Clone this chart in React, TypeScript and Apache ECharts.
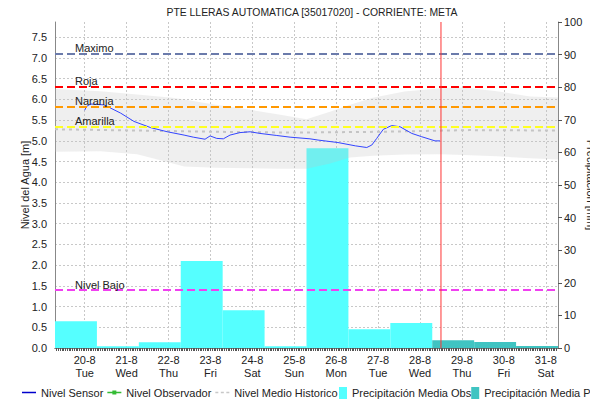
import React, { useEffect, useRef } from "react";
import * as echarts from "echarts";

const FONT = "'Liberation Sans', Arial, sans-serif";

// X axis: hours since 20-8 00:00
const X_MIN = -17; // 19-8 07:00
const X_MAX = 271; // 31-8 07:00
const Y_MAX = 7.87;
const dayLabels = ["20-8", "21-8", "22-8", "23-8", "24-8", "25-8", "26-8", "27-8", "28-8", "29-8", "30-8", "31-8"];
const weekdays = ["Tue", "Wed", "Thu", "Fri", "Sat", "Sun", "Mon", "Tue", "Wed", "Thu", "Fri", "Sat"];

// Daily precipitation (07:00 to 07:00), mm
const obsDates = ["19-8", "20-8", "21-8", "22-8", "23-8", "24-8", "25-8", "26-8", "27-8"];
const obsStartHour = [-17, 7, 31, 55, 79, 103, 127, 151, 175];
const obsMm = [8.2, 0.5, 1.8, 26.7, 11.6, 0.5, 61.3, 5.75, 7.7];
const proDates = ["28-8", "29-8", "30-8"];
const proStartHour = [199, 223, 247];
const proMm = [2.4, 1.85, 0.6];

// Sensor level (m)
const sensorHours = [0, 1, 3.4, 11, 14, 20.6, 28.2, 37.8, 47.3, 56.9, 62.2, 68.9, 71.8, 75.6, 79.4, 83.2, 88.9, 94.7, 100.4, 110, 117.6, 129, 133.6, 145, 155, 161.5, 164.4, 167.2, 171, 175.8, 180.6, 187.3, 193, 200.6, 203.5];
const sensorLevel = [5.74, 5.83, 5.89, 5.87, 5.81, 5.67, 5.47, 5.32, 5.22, 5.14, 5.09, 5.04, 5.12, 5.06, 5.05, 5.14, 5.2, 5.22, 5.18, 5.13, 5.09, 5.05, 5.02, 4.96, 4.88, 4.84, 4.9, 5.06, 5.28, 5.37, 5.34, 5.18, 5.1, 5.0, 5.0];

// Historical mean level and range (m)
const meanHours = [-17, 30, 75, 120, 170, 220, 271];
const meanLevel = [5.28, 5.25, 5.22, 5.2, 5.22, 5.26, 5.25];
const bandHours = [-17, 9, 30, 50, 57, 75, 95, 112, 127, 140, 152, 165, 183, 204, 217, 236, 255, 271];
const bandHigh = [6.25, 6.2, 6.12, 6.04, 6.0, 5.87, 5.75, 5.63, 5.52, 5.7, 5.87, 6.04, 6.19, 6.27, 6.29, 6.2, 6.07, 6.05];
const bandLow = [4.74, 4.75, 4.68, 4.46, 4.38, 4.35, 4.34, 4.33, 4.33, 4.45, 4.6, 4.64, 4.67, 4.68, 4.66, 4.63, 4.58, 4.55];

// Alert thresholds (m)
const thresholdNames = ["Maximo", "Roja", "Naranja", "Amarilla", "Nivel Bajo"];
const thresholdValues = [7.1, 6.31, 5.82, 5.34, 1.4];
const thresholdColors = ["#6b7bab", "#ff0000", "#ff9900", "#ffff22", "#f040f0"];

const nowHour = 204; // 28-8 12:00

const dayTickHours = dayLabels.map((_, i) => i * 24);
const minorTickHours: number[] = [];
for (let h = X_MIN + 1; h < X_MAX; h += 1) minorTickHours.push(h);

const OBS_COLOR = "#55ffff";
const PRO_COLOR = "#40c4c2";

function barSeries(name: string, starts: number[], vals: number[], color: string) {
  return {
    name,
    type: "custom",
    xAxisIndex: 0,
    yAxisIndex: 1,
    itemStyle: { color },
    encode: { x: [0, 1], y: 2 },
    data: starts.map((s, i) => [s, s + 24, vals[i]]),
    renderItem: (_params: any, api: any) => {
      const p0 = api.coord([api.value(0), api.value(2)]);
      const p1 = api.coord([api.value(1), 0]);
      return {
        type: "rect",
        shape: { x: p0[0], y: p0[1], width: p1[0] - p0[0], height: p1[1] - p0[1] },
        style: { fill: color },
      };
    },
  };
}

const lineIcon = "path://M0,0h14v1.5h-14z";
const obsIcon = "path://M0,1.25h14v1.5h-14z M5,0h4v4h-4z";
const dashIcon = "path://M0,0h3v1.5h-3z M5.5,0h3v1.5h-3z M11,0h3v1.5h-3z";
const boxIcon = "path://M0,0h8v12h-8z";

export default function App() {
  const ref = useRef<HTMLDivElement>(null);
  useEffect(() => {
    if (!ref.current) return;
    const chart = echarts.init(ref.current, undefined, { renderer: "svg" });
    const grid = { color: "#c8c8c8", type: [2, 2], width: 1 };
    const legendText = { fontSize: 11, color: "#222", fontFamily: FONT };
    const option: any = {
      animation: false,
      backgroundColor: "#ffffff",
      textStyle: { fontFamily: FONT },
      title: {
        text: "PTE LLERAS AUTOMATICA [35017020] - CORRIENTE: META",
        left: 307,
        top: 2,
        textAlign: "center",
        textStyle: { fontSize: 10.4, fontWeight: "normal", color: "#222", fontFamily: FONT },
      },
      grid: { left: 55, right: 32, top: 22, bottom: 55, containLabel: false, outerBoundsMode: "none" },
      legend: [
        {
          left: 22,
          top: 387,
          padding: 0,
          width: 400,
          itemWidth: 14,
          itemHeight: 12,
          itemGap: 4,
          textStyle: legendText,
          data: [
            { name: "Nivel Sensor", icon: lineIcon, itemStyle: { color: "#0000cc", borderWidth: 0 } },
            { name: "Nivel Observador", icon: obsIcon, itemStyle: { color: "#33bb33", borderWidth: 0 } },
            { name: "Nivel Medio Historico", icon: dashIcon, itemStyle: { color: "#c8c8c8", borderWidth: 0 } },
          ],
        },
        {
          left: 339,
          top: 387,
          padding: 0,
          width: 600,
          itemWidth: 8,
          itemHeight: 12,
          itemGap: 0,
          textStyle: legendText,
          data: [
            { name: "Precipitación Media Obs", icon: boxIcon },
            { name: "Precipitación Media Pronosticada", icon: boxIcon },
          ],
        },
      ],
      xAxis: [
        {
          type: "value",
          min: X_MIN,
          max: X_MAX,
          position: "bottom",
          axisLine: { show: true, onZero: false, lineStyle: { color: "#777" } },
          axisTick: { show: false, customValues: dayTickHours },
          axisLabel: {
            customValues: dayTickHours,
            formatter: (v: number) => {
              const i = Math.round(v / 24);
              return dayLabels[i] + "\n" + weekdays[i];
            },
            fontSize: 11,
            color: "#222",
            margin: 5,
            lineHeight: 13,
            fontFamily: FONT,
          },
          splitLine: { show: true, lineStyle: grid },
        },
        {
          type: "value",
          min: X_MIN,
          max: X_MAX,
          position: "bottom",
          axisLine: { show: true, onZero: false, lineStyle: { color: "#777" } },
          axisTick: { show: true, customValues: minorTickHours, length: 3, lineStyle: { color: "#555" } },
          axisLabel: { show: false },
          splitLine: { show: false },
        },
      ],
      yAxis: [
        {
          type: "value",
          min: 0,
          max: Y_MAX,
          interval: 0.5,
          position: "left",
          name: "Nivel del Agua [m]",
          nameLocation: "middle",
          nameGap: 25,
          nameRotate: 90,
          nameMoveOverlap: false,
          nameTextStyle: { fontSize: 11, color: "#222", fontFamily: FONT },
          axisLine: { show: true, onZero: false, lineStyle: { color: "#888" } },
          axisTick: { show: false },
          axisLabel: {
            formatter: (v: number) => v.toFixed(1),
            showMaxLabel: false,
            fontSize: 11,
            color: "#222",
            margin: 8,
            fontFamily: FONT,
          },
          splitLine: { show: true, showMaxLine: false, showMinLine: false, lineStyle: grid },
        },
        {
          type: "value",
          min: 0,
          max: 100,
          interval: 10,
          position: "right",
          name: "Precipitación [mm]",
          nameLocation: "middle",
          nameGap: 27,
          nameRotate: -90,
          nameMoveOverlap: false,
          nameTextStyle: { fontSize: 11, color: "#222", fontFamily: FONT },
          axisLine: { show: true, onZero: false, lineStyle: { color: "#888" } },
          axisTick: { show: true, length: 4, inside: false, lineStyle: { color: "#555" } },
          axisLabel: { fontSize: 11, color: "#222", margin: 6, fontFamily: FONT },
          splitLine: { show: false },
        },
      ],
      series: [
        barSeries("Precipitación Media Obs", obsStartHour, obsMm, OBS_COLOR),
        barSeries("Precipitación Media Pronosticada", proStartHour, proMm, PRO_COLOR),
        {
          name: "Rango Historico",
          type: "custom",
          xAxisIndex: 0,
          yAxisIndex: 0,
          silent: true,
          data: [[bandHours[0], bandLow[0]]],
          renderItem: (_params: any, api: any) => {
            const pts: number[][] = [];
            bandHours.forEach((h, i) => pts.push(api.coord([h, bandHigh[i]])));
            for (let i = bandHours.length - 1; i >= 0; i--) pts.push(api.coord([bandHours[i], bandLow[i]]));
            return { type: "polygon", shape: { points: pts }, style: { fill: "rgba(192,192,192,0.26)" } };
          },
        },
        {
          name: "Nivel Medio Historico",
          type: "line",
          symbol: "none",
          itemStyle: { color: "#c4c4c4" },
          lineStyle: { color: "#c4c4c4", width: 2, type: [3, 4] },
          data: meanHours.map((h, i) => [h, meanLevel[i]]),
        },
        {
          name: "Nivel Observador",
          type: "line",
          symbol: "rect",
          symbolSize: 4,
          itemStyle: { color: "#33bb33" },
          lineStyle: { color: "#33bb33", width: 1 },
          data: [],
        },
        {
          name: "Nivel Sensor",
          type: "line",
          symbol: "none",
          itemStyle: { color: "#0000cc" },
          lineStyle: { color: "#3344ff", width: 1 },
          data: sensorHours.map((h, i) => [h, sensorLevel[i]]),
          markLine: {
            silent: true,
            symbol: "none",
            animation: false,
            data: thresholdNames.map((n, i) => ({
              yAxis: thresholdValues[i],
              lineStyle: { color: thresholdColors[i], type: [8, 4], width: 2 },
              label: {
                show: true,
                formatter: n,
                position: "insideStartTop",
                distance: 0,
                padding: [0, 0, 0, 20],
                color: "#222",
                fontSize: 11,
                fontFamily: FONT,
              },
            })),
          },
        },
        {
          name: "Ahora",
          type: "custom",
          xAxisIndex: 0,
          yAxisIndex: 0,
          silent: true,
          z: 5,
          encode: { x: 0, y: 1 },
          data: [[nowHour, 0]],
          renderItem: (_params: any, api: any) => {
            const top = api.coord([api.value(0), Y_MAX]);
            const bot = api.coord([api.value(0), 0]);
            return {
              type: "line",
              shape: { x1: top[0], y1: top[1], x2: bot[0], y2: bot[1] },
              style: { stroke: "#ff3333", lineWidth: 1 },
            };
          },
        },
      ],
    };
    chart.setOption(option);
    return () => chart.dispose();
  }, []);
  return (
    <div
      ref={ref}
      style={{ position: "fixed", left: 0, top: 0, width: 590, height: 403, background: "#fff" }}
    />
  );
}
